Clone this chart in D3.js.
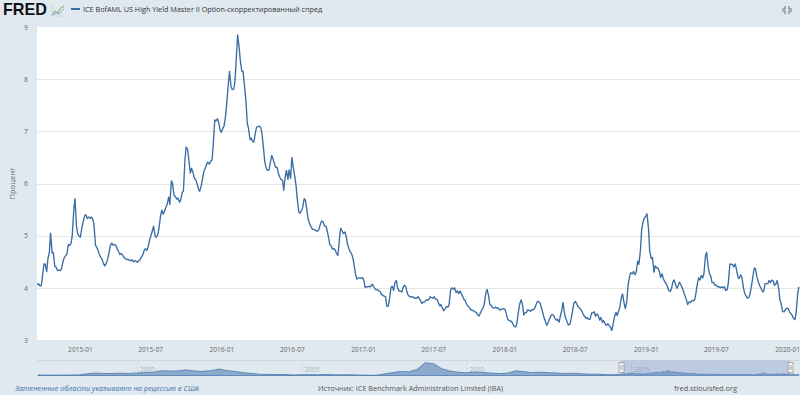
<!DOCTYPE html>
<html>
<head>
<meta charset="utf-8">
<script src="https://cdn.jsdelivr.net/npm/d3@7"></script>
<style>
  html, body { margin: 0; padding: 0; background: #e1e9f0; }
  svg { display: block; font-family: "Open Sans", sans-serif; }
</style>
</head>
<body>
<div id="chart"></div>
<script>
// Friday readings of the spread, percent
const fri2014 = [4.06, 4.04, 4.22, 4.46, 4.55, 5.05, 4.68, 4.40, 4.34, 4.36, 4.57, 4.64, 4.81, 5.00, 5.71, 5.04];
const fri2015 = [4.97, 5.26, 5.40, 5.36, 5.36, 5.22, 4.78, 4.64, 4.55, 4.42, 4.54, 4.80, 4.82, 4.82, 4.70, 4.66,
    4.59, 4.54, 4.53, 4.54, 4.52, 4.49, 4.54, 4.63, 4.75, 4.79, 4.99, 5.18, 4.97, 5.15, 5.49, 5.47,
    5.60, 5.60, 6.00, 5.75, 5.72, 5.68, 5.85, 6.70, 6.45, 6.29, 6.11, 6.00, 5.85, 6.08, 6.28, 6.41,
    6.42, 6.74, 7.20, 7.17];
const fri2016 = [6.98, 7.10, 7.55, 8.15, 7.80, 7.95, 8.85, 8.35, 8.15, 7.62, 7.06, 6.87, 6.80, 7.08, 7.10, 6.95,
    6.42, 6.25, 6.38, 6.48, 6.31, 6.20, 6.08, 5.87, 6.25, 6.26, 6.50, 6.16, 5.70, 5.43, 5.55, 5.68,
    5.32, 5.18, 5.12, 5.09, 5.12, 5.28, 5.19, 5.10, 4.83, 4.74, 4.72, 4.62, 5.14, 5.04, 4.99, 4.76,
    4.66, 4.42, 4.17, 4.19, 4.20];
const fri2017 = [4.01, 4.02, 4.02, 4.04, 3.96, 3.94, 3.88, 3.84, 3.65, 3.78, 4.03, 4.10, 4.00, 3.94, 4.01, 4.02,
    3.85, 3.82, 3.81, 3.80, 3.80, 3.70, 3.73, 3.76, 3.83, 3.80, 3.78, 3.72, 3.68, 3.56, 3.64, 3.68,
    4.00, 4.00, 3.94, 3.94, 3.84, 3.75, 3.65, 3.58, 3.56, 3.53, 3.46, 3.57, 3.70, 3.97, 3.69, 3.62,
    3.63, 3.62, 3.58, 3.60];
const fri2018 = [3.52, 3.38, 3.36, 3.26, 3.32, 3.68, 3.70, 3.52, 3.58, 3.55, 3.58, 3.67, 3.74, 3.63, 3.43, 3.28,
    3.40, 3.49, 3.42, 3.40, 3.45, 3.72, 3.42, 3.29, 3.40, 3.70, 3.70, 3.62, 3.55, 3.45, 3.43, 3.40,
    3.52, 3.46, 3.47, 3.43, 3.37, 3.28, 3.28, 3.18, 3.44, 3.47, 3.64, 3.88, 3.60, 4.05, 4.29, 4.31,
    4.30, 4.45, 5.10, 5.33];
const fri2019 = [5.42, 4.70, 4.58, 4.42, 4.38, 4.20, 4.17, 4.08, 3.95, 3.98, 4.15, 3.99, 4.11, 4.00, 3.85, 3.68,
    3.72, 3.75, 3.88, 4.19, 4.24, 4.27, 4.68, 4.28, 4.10, 4.05, 4.02, 4.00, 4.00, 3.95, 4.10, 4.45,
    4.40, 4.35, 4.18, 4.20, 3.90, 3.80, 3.88, 4.20, 4.37, 4.12, 4.00, 3.93, 4.08, 4.14, 4.15, 4.05,
    4.14, 3.78, 3.55, 3.58];
const fri2020 = [3.61, 3.51, 3.42, 3.52, 4.02];

// Tuesday readings of the spread, percent
const tue2014 = [4.08, 4.04, 4.46, 4.31, 4.69, 4.67, 4.41, 4.33, 4.33, 4.50, 4.62, 4.83, 4.85, 5.50, 5.18, 4.99];
const tue2015 = [5.16, 5.38, 5.33, 5.33, 5.32, 4.82, 4.71, 4.58, 4.46, 4.47, 4.67, 4.86, 4.83, 4.75, 4.64, 4.63,
    4.56, 4.55, 4.52, 4.50, 4.51, 4.52, 4.60, 4.72, 4.72, 4.93, 5.10, 4.99, 5.02, 5.37, 5.41, 5.55,
    5.74, 6.05, 5.77, 5.70, 5.64, 5.83, 6.45, 6.65, 6.20, 6.21, 6.07, 5.90, 5.95, 6.24, 6.37, 6.37,
    6.45, 7.22, 7.24, 7.02];
const tue2016 = [7.06, 7.30, 7.91, 7.85, 7.81, 8.45, 8.60, 8.15, 7.85, 7.15, 6.84, 6.80, 6.98, 7.09, 7.07, 6.66,
    6.29, 6.26, 6.54, 6.38, 6.31, 6.12, 6.06, 6.14, 6.08, 6.10, 6.30, 5.95, 5.45, 5.48, 5.71, 5.48,
    5.23, 5.12, 5.11, 5.09, 5.23, 5.26, 5.18, 4.96, 4.80, 4.75, 4.65, 4.95, 5.09, 5.07, 4.83, 4.68,
    4.56, 4.24, 4.19, 4.18];
const tue2017 = [4.14, 4.02, 4.03, 4.07, 3.99, 3.97, 3.93, 3.86, 3.83, 3.65, 4.00, 3.95, 4.14, 3.94, 3.92, 4.05,
    3.90, 3.83, 3.83, 3.80, 3.83, 3.74, 3.73, 3.77, 3.78, 3.81, 3.83, 3.78, 3.65, 3.61, 3.60, 3.63,
    3.96, 3.97, 3.91, 3.89, 3.88, 3.77, 3.67, 3.61, 3.57, 3.54, 3.48, 3.52, 3.62, 3.90, 3.85, 3.66,
    3.61, 3.61, 3.58, 3.59];
const tue2018 = [3.59, 3.40, 3.36, 3.30, 3.25, 3.54, 3.77, 3.48, 3.53, 3.57, 3.58, 3.61, 3.74, 3.70, 3.52, 3.35,
    3.34, 3.46, 3.47, 3.38, 3.34, 3.57, 3.51, 3.34, 3.30, 3.57, 3.74, 3.64, 3.58, 3.48, 3.41, 3.39,
    3.52, 3.54, 3.50, 3.38, 3.34, 3.31, 3.31, 3.24, 3.33, 3.53, 3.56, 3.82, 3.70, 3.75, 4.22, 4.27,
    4.25, 4.51, 4.72, 5.27];
const tue2019 = [5.38, 5.12, 4.56, 4.30, 4.38, 4.31, 4.27, 4.12, 4.02, 3.93, 4.12, 4.06, 4.05, 4.05, 3.91, 3.76,
    3.73, 3.76, 3.77, 4.08, 4.15, 4.19, 4.62, 4.40, 4.21, 4.10, 4.05, 4.02, 4.02, 4.02, 3.96, 4.46,
    4.45, 4.46, 4.20, 4.25, 4.00, 3.84, 3.82, 4.05, 4.38, 4.20, 4.04, 3.93, 4.08, 4.08, 4.10, 4.13,
    4.08, 3.99, 3.67, 3.54, 3.61];
const tue2020 = [3.54, 3.47, 3.39, 3.88];

// Longer history shown in the navigator, quarterly 1997-01 .. 2014-07
const navHistory = [
    3.1, 2.9, 2.8, 3.0,   3.0, 3.1, 4.6, 5.5,   5.0, 4.9, 5.3, 5.0,   5.6, 6.0, 6.5, 8.5,
    8.0, 8.2, 9.5, 8.0,   7.6, 8.5, 10.5, 8.5,  7.5, 5.8, 5.0, 3.8,   3.8, 3.6, 3.6, 3.1,
    3.3, 3.6, 3.3, 3.7,   3.3, 3.2, 3.3, 2.9,   2.8, 2.6, 4.3, 5.8,   7.5, 7.0, 10.0, 18.5,
    17.5, 11.0, 8.0, 6.5, 5.8, 7.0, 6.2, 5.4,   4.8, 5.4, 8.3, 7.2,   6.0, 6.5, 5.9, 5.4,
    4.9, 5.2, 4.6, 4.0,   4.0, 3.5, 3.5
];

const xTickLabels = ["2015-01", "2015-07", "2016-01", "2016-07", "2017-01", "2017-07",
    "2018-01", "2018-07", "2019-01", "2019-07", "2020-01"];
const yTicks = [3, 4, 5, 6, 7, 8, 9];
const navYearLabels = ["2000", "2005", "2010", "2015"];

const width = 800, height = 395;
const plot = { left: 37, top: 27, right: 800, bottom: 340 };
const lineColor = "#3a6da4";

// Build dated series
const parseMonth = d3.timeParse("%Y-%m");
const years = [
    [fri2014, tue2014, new Date(2014, 8, 12), new Date(2015, 0, 1)],
    [fri2015, tue2015, new Date(2015, 0, 1), new Date(2016, 0, 1)],
    [fri2016, tue2016, new Date(2016, 0, 1), new Date(2017, 0, 1)],
    [fri2017, tue2017, new Date(2017, 0, 1), new Date(2018, 0, 1)],
    [fri2018, tue2018, new Date(2018, 0, 1), new Date(2019, 0, 1)],
    [fri2019, tue2019, new Date(2019, 0, 1), new Date(2020, 0, 1)],
    [fri2020, tue2020, new Date(2020, 0, 1), new Date(2020, 1, 1)]
];
let series = [];
years.forEach(([fri, tue, from, to]) => {
    d3.timeFriday.range(from, to).forEach((d, i) => {
        if (i < fri.length) series.push({ date: d, value: fri[i] });
    });
    d3.timeTuesday.range(from, to).forEach((d, i) => {
        if (i < tue.length) series.push({ date: d, value: tue[i] });
    });
});
series.sort((a, b) => a.date - b.date);

const navSeries = d3.timeMonth.every(3)
    .range(new Date(1997, 0, 1), new Date(2014, 8, 1))
    .map((d, i) => ({ date: d, value: navHistory[i] }))
    .filter(d => d.value !== undefined)
    .concat(series);

const svg = d3.select("#chart").append("svg")
    .attr("width", width)
    .attr("height", height);

svg.append("rect")
    .attr("width", width).attr("height", height)
    .attr("fill", "#e1e9f0");

// Shrink or grow a text so that it spans the given width
function fitWidth(sel, target) {
    const size = parseFloat(sel.attr("font-size"));
    const len = sel.node().getComputedTextLength();
    if (len > 0) sel.attr("font-size", (size * target / len).toFixed(2));
    return sel;
}

// Header: logo, legend, expand icon
const header = svg.append("g");
fitWidth(header.append("text")
    .attr("x", 3).attr("y", 15.3)
    .attr("font-family", "Liberation Sans")
    .attr("font-size", 16).attr("font-weight", 700)
    .attr("fill", "#111")
    .text("FRED"), 44);
const icon = header.append("g").attr("transform", "translate(52,4)");
icon.append("path")
    .attr("d", "M0,11 L3,7 L6,8.5 L9,4 L12,2")
    .attr("fill", "none").attr("stroke", "#8fbf7a").attr("stroke-width", 1.2);
icon.append("path")
    .attr("d", "M0,11.5 L4,9 L7,10 L12,5")
    .attr("fill", "none").attr("stroke", "#7fa9d1").attr("stroke-width", 1);
icon.append("path")
    .attr("d", "M0,0 V12 H12")
    .attr("fill", "none").attr("stroke", "#c8d3dc").attr("stroke-width", 0.8);

header.append("line")
    .attr("x1", 71).attr("x2", 80).attr("y1", 9).attr("y2", 9)
    .attr("stroke", lineColor).attr("stroke-width", 2);
fitWidth(header.append("text")
    .attr("x", 83).attr("y", 11.6)
    .attr("font-size", 7.2).attr("fill", "#333")
    .text("ICE BofAML US High Yield Master II Option-скорректированный спред"), 239);

header.append("path")
    .attr("d", "M785,6 V9 H782 M789,6 V9 H792 M785,14 V11 H782 M789,14 V11 H792")
    .attr("fill", "none").attr("stroke", "#777").attr("stroke-width", 1.1);

// Scales
const x = d3.scaleTime()
    .domain([new Date(2014, 8, 12), new Date(2020, 1, 3)])
    .range([plot.left, plot.right]);
const y = d3.scaleLinear()
    .domain([3, 9])
    .range([plot.bottom, plot.top]);

svg.append("rect")
    .attr("x", plot.left).attr("y", plot.top)
    .attr("width", plot.right - plot.left).attr("height", plot.bottom - plot.top)
    .attr("fill", "#fff");

// Y axis with grid lines
const yAxis = svg.append("g")
    .attr("transform", `translate(${plot.left},0)`)
    .call(d3.axisLeft(y).tickValues(yTicks).tickFormat(d3.format("d")).tickSize(0).tickPadding(9));
yAxis.select(".domain").remove();
yAxis.selectAll("text")
    .attr("font-family", "Open Sans").attr("font-size", 6.8).attr("fill", "#666");
svg.append("g")
    .selectAll("line")
    .data(yTicks.filter(v => v > 3 && v < 9))
    .join("line")
    .attr("x1", plot.left).attr("x2", plot.right)
    .attr("y1", d => Math.round(y(d)) + 0.5).attr("y2", d => Math.round(y(d)) + 0.5)
    .attr("stroke", "#e6e6e6");

svg.append("text")
    .attr("transform", `translate(14.5,${(plot.top + plot.bottom) / 2}) rotate(-90)`)
    .attr("text-anchor", "middle")
    .attr("font-size", 7.6).attr("fill", "#666")
    .text("Процент");

// X axis
const xAxis = svg.append("g")
    .attr("transform", `translate(0,${plot.bottom})`)
    .call(d3.axisBottom(x)
        .tickValues(xTickLabels.map(parseMonth))
        .tickFormat(d3.timeFormat("%Y-%m"))
        .tickSize(0).tickPadding(7));
xAxis.select(".domain").remove();
xAxis.selectAll("text")
    .attr("font-family", "Open Sans").attr("font-size", 6.6).attr("fill", "#666");

// Series line
svg.append("clipPath").attr("id", "plotClip")
    .append("rect")
    .attr("x", plot.left).attr("y", plot.top)
    .attr("width", plot.right - plot.left).attr("height", plot.bottom - plot.top);

const line = d3.line()
    .x(d => x(d.date))
    .y(d => y(d.value));

svg.append("path")
    .datum(series)
    .attr("clip-path", "url(#plotClip)")
    .attr("fill", "none")
    .attr("stroke", lineColor)
    .attr("stroke-width", 1.35)
    .attr("stroke-linejoin", "round")
    .attr("d", line);

// Navigator
const nav = { top: 360.5, bottom: 376 };
const navX = d3.scaleTime()
    .domain([new Date(1997, 0, 1), new Date(2020, 1, 3)])
    .range([38, 799]);
const navY = d3.scaleLinear()
    .domain([2.4, 20])
    .range([375.5, 361.5]);

svg.append("line")
    .attr("x1", plot.left).attr("x2", plot.right)
    .attr("y1", nav.top).attr("y2", nav.top)
    .attr("stroke", "#cfd8e0");

svg.append("g")
    .selectAll("line")
    .data(navYearLabels)
    .join("line")
    .attr("x1", d => Math.round(navX(new Date(+d, 0, 1))) + 0.5)
    .attr("x2", d => Math.round(navX(new Date(+d, 0, 1))) + 0.5)
    .attr("y1", nav.top).attr("y2", nav.bottom)
    .attr("stroke", "#d6dee6");

svg.append("path")
    .datum(navSeries)
    .attr("fill", "#6f95c0")
    .attr("fill-opacity", 0.75)
    .attr("stroke", "#4a78ad")
    .attr("stroke-width", 0.8)
    .attr("d", d3.area()
        .x(d => navX(d.date))
        .y0(nav.bottom - 0.5)
        .y1(d => navY(d.value)));

svg.append("g")
    .selectAll("text")
    .data(navYearLabels)
    .join("text")
    .attr("x", d => navX(new Date(+d, 0, 1)) + 3)
    .attr("y", 371.5)
    .attr("font-size", 6.5)
    .attr("fill", "#a9b3bd")
    .text(d => d);

const selFrom = navX(x.domain()[0]);
const selTo = navX(x.domain()[1]) - 9;
svg.append("rect")
    .attr("x", selFrom).attr("y", nav.top)
    .attr("width", selTo - selFrom).attr("height", nav.bottom - nav.top)
    .attr("fill", "rgb(102,133,194)").attr("fill-opacity", 0.3);

const handles = svg.append("g")
    .selectAll("g")
    .data([selFrom, selTo])
    .join("g")
    .attr("transform", d => `translate(${Math.round(d) + 0.5},0)`);
handles.append("rect")
    .attr("x", -2.5).attr("y", 362.5)
    .attr("width", 5).attr("height", 10)
    .attr("fill", "#f2f2f2").attr("stroke", "#999").attr("stroke-width", 0.8);
handles.append("path")
    .attr("d", "M-0.8,365 V370 M0.8,365 V370")
    .attr("stroke", "#999").attr("stroke-width", 0.6);

// Footer
fitWidth(svg.append("text")
    .attr("x", 15).attr("y", 391)
    .attr("font-size", 7.3).attr("font-style", "italic")
    .attr("fill", "#3c6fa8")
    .text("Затененные области указывают на рецессию в США"), 184);
fitWidth(svg.append("text")
    .attr("x", 318).attr("y", 391)
    .attr("font-size", 7.2).attr("fill", "#555")
    .text("Источник: ICE Benchmark Administration Limited (IBA)"), 185);
fitWidth(svg.append("text")
    .attr("x", 674).attr("y", 391)
    .attr("font-size", 7.2).attr("fill", "#555")
    .text("fred.stlouisfed.org"), 63);
</script>
</body>
</html>
